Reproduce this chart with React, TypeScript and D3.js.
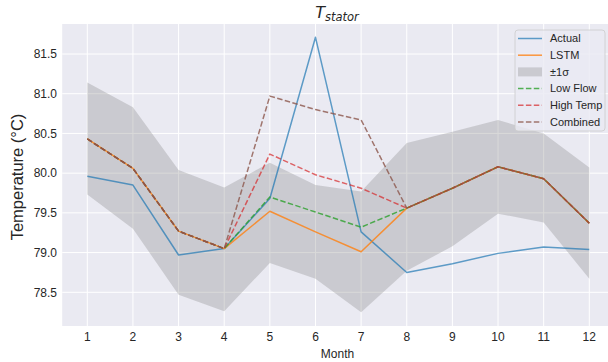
import React from "react";
import * as d3 from "d3";

// months on the x axis
const months = [1, 2, 3, 4, 5, 6, 7, 8, 9, 10, 11, 12];

// series
const actual = [79.96, 79.85, 78.97, 79.05, 79.68, 81.71, 79.26, 78.75, 78.86, 78.99, 79.07, 79.04];
const lstm = [80.43, 80.06, 79.27, 79.05, 79.52, 79.26, 79.01, 79.56, 79.81, 80.08, 79.93, 79.37];
const sigmaUpper = [81.14, 80.83, 80.04, 79.82, 80.13, 79.85, 79.77, 80.38, 80.52, 80.67, 80.5, 80.07];
const sigmaLower = [79.73, 79.3, 78.47, 78.26, 78.87, 78.67, 78.25, 78.77, 79.08, 79.49, 79.38, 78.67];
const lowFlow = [80.43, 80.06, 79.27, 79.05, 79.7, 79.51, 79.32, 79.56, 79.81, 80.08, 79.93, 79.37];
const highTemp = [80.43, 80.06, 79.27, 79.05, 80.24, 79.98, 79.81, 79.56, 79.81, 80.08, 79.93, 79.37];
const combined = [80.43, 80.06, 79.27, 79.05, 80.97, 80.8, 80.67, 79.56, 79.81, 80.08, 79.93, 79.37];

const yTicks = [78.5, 79.0, 79.5, 80.0, 80.5, 81.0, 81.5];

const W = 608;
const H = 362;
const plotTop = 24;
const plotBottom = 326;

const font = "'Liberation Sans', Arial, sans-serif";
const textColor = "#262626";

export default function App() {
  const x = d3.scaleLinear().domain([1, 12]).range([87.3, 589.3]);
  const y = d3.scaleLinear().domain([78.5, 81.5]).range([292.3, 54.0]);
  const plotLeft = x(0.45);
  const plotRight = x(12.55);

  const line = (vals: number[]) =>
    d3
      .line<number>()
      .x((_, i) => x(months[i]))
      .y((d) => y(d))(vals) || "";

  const band =
    d3
      .area<number>()
      .x((_, i) => x(months[i]))
      .y0((_, i) => y(sigmaLower[i]))
      .y1((d) => y(d))(sigmaUpper) || "";

  const dash = "5.5,2.4";

  const series = [
    { name: "Low Flow", vals: lowFlow, color: "#2ca02c", opacity: 0.8 },
    { name: "High Temp", vals: highTemp, color: "#d62728", opacity: 0.7 },
    { name: "Combined", vals: combined, color: "#8c564b", opacity: 0.8 },
  ];

  const legendX = 515;
  const legendY = 30;
  const rowH = 16.7;
  const legendItems = [
    { name: "Actual", kind: "line", color: "#1f77b4", opacity: 0.7, dashed: false },
    { name: "LSTM", kind: "line", color: "#ff7f0e", opacity: 0.8, dashed: false },
    { name: "±1σ", kind: "patch", color: "gray", opacity: 0.3, dashed: false },
    ...series.map((s) => ({ name: s.name, kind: "line", color: s.color, opacity: s.opacity, dashed: true })),
  ];

  return (
    <svg
      width={W}
      height={H}
      style={{ position: "absolute", left: 0, top: 0, background: "#fff" }}
    >
      <defs>
        <clipPath id="plotClip">
          <rect x={plotLeft} y={plotTop} width={plotRight - plotLeft} height={plotBottom - plotTop} />
        </clipPath>
      </defs>
      <rect x={plotLeft} y={plotTop} width={plotRight - plotLeft} height={plotBottom - plotTop} fill="#EAEAF2" />

      {/* grid */}
      {yTicks.map((t) => (
        <line key={"gy" + t} x1={plotLeft} x2={plotRight} y1={y(t)} y2={y(t)} stroke="#fff" strokeWidth={1} />
      ))}
      {months.map((m) => (
        <line key={"gx" + m} x1={x(m)} x2={x(m)} y1={plotTop} y2={plotBottom} stroke="#fff" strokeWidth={1} />
      ))}

      <g clipPath="url(#plotClip)" fill="none" strokeWidth={1.5} strokeLinejoin="round">
        <path d={band} fill="gray" fillOpacity={0.3} stroke="none" />
        <path d={line(actual)} stroke="#1f77b4" strokeOpacity={0.7} />
        <path d={line(lstm)} stroke="#ff7f0e" strokeOpacity={0.8} />
        {series.map((s) => (
          <path key={s.name} d={line(s.vals)} stroke={s.color} strokeOpacity={s.opacity} strokeDasharray={dash} />
        ))}
      </g>

      {/* y ticks */}
      {yTicks.map((t) => (
        <text
          key={"ty" + t}
          x={57}
          y={y(t)}
          dy="0.35em"
          textAnchor="end"
          fontFamily={font}
          fontSize={12}
          fill={textColor}
        >
          {t.toFixed(1)}
        </text>
      ))}
      {/* x ticks */}
      {months.map((m) => (
        <text
          key={"tx" + m}
          x={x(m)}
          y={341}
          textAnchor="middle"
          fontFamily={font}
          fontSize={12}
          fill={textColor}
        >
          {m}
        </text>
      ))}

      <text x={337.5} y={358} textAnchor="middle" fontFamily={font} fontSize={12} fill={textColor}>
        Month
      </text>
      <text
        transform={`translate(23,${177}) rotate(-90)`}
        textAnchor="middle"
        fontFamily={font}
        fontSize={16.5}
        fill={textColor}
      >
        Temperature (°C)
      </text>

      {/* title */}
      <text x={337} y={18} textAnchor="middle" fontFamily="'DejaVu Sans', sans-serif" fill={textColor}>
        <tspan fontSize={16} fontStyle="italic">T</tspan>
        <tspan fontSize={11.5} fontStyle="italic" dy={3}>stator</tspan>
      </text>

      {/* legend */}
      <rect
        x={legendX}
        y={legendY}
        width={90}
        height={101}
        rx={3}
        fill="#EAEAF2"
        fillOpacity={0.8}
        stroke="#ccc"
        strokeWidth={0.8}
      />
      {legendItems.map((it, i) => {
        const cy = legendY + 8.5 + i * rowH;
        return (
          <g key={it.name}>
            {it.kind === "patch" ? (
              <rect x={legendX + 3} y={cy - 4.5} width={24} height={9} fill={it.color} fillOpacity={it.opacity} />
            ) : (
              <line
                x1={legendX + 3}
                x2={legendX + 27}
                y1={cy}
                y2={cy}
                stroke={it.color}
                strokeOpacity={it.opacity}
                strokeWidth={1.5}
                strokeDasharray={it.dashed ? dash : undefined}
              />
            )}
            <text
              x={legendX + 35}
              y={cy}
              dy="0.35em"
              fontFamily={font}
              fontSize={11}
              fill={textColor}
            >
              {it.name}
            </text>
          </g>
        );
      })}
    </svg>
  );
}
